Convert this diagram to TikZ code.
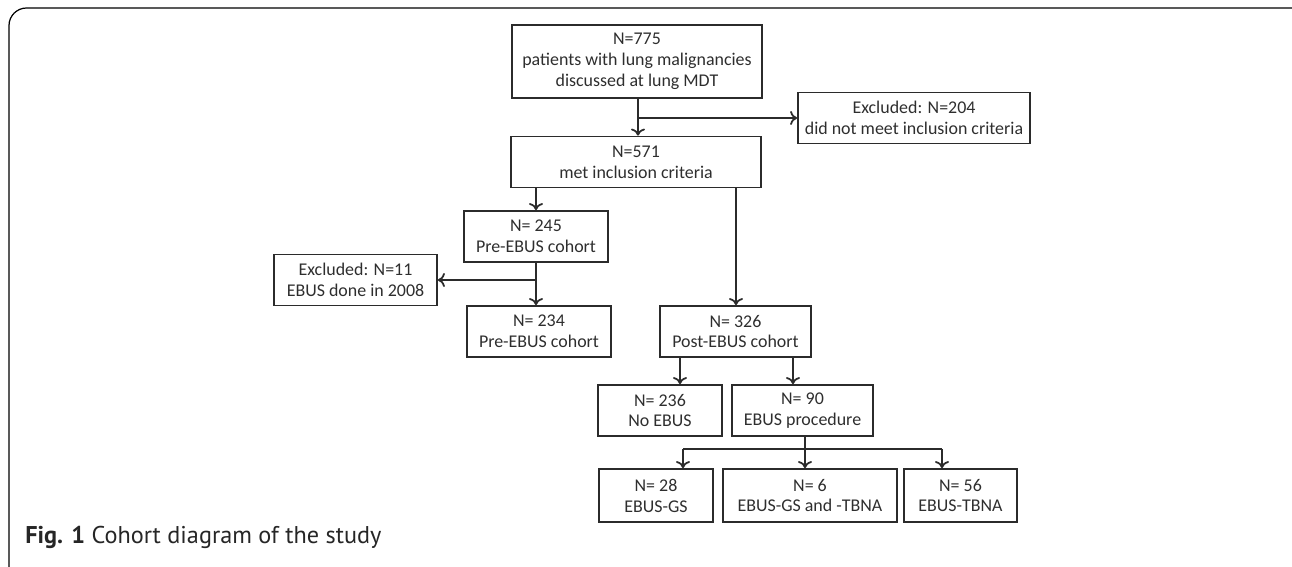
\documentclass[tikz,border=0pt]{standalone}
\usepackage{fontspec}
\setmainfont{Carlito}
\newfontfamily\capfont{PT Sans}
\usepackage{tikz}
\usetikzlibrary{arrows.meta}
\usepackage{xcolor}
\definecolor{boxline}{HTML}{2B2B2B}
\definecolor{boxtext}{HTML}{2E2E2E}

\begin{document}
\begin{tikzpicture}[x=0.02cm, y=-0.02cm,
		box/.style={rectangle, draw=boxline, line width=1pt, text=boxtext, align=center, inner sep=2pt, minimum height=1.02cm, font=\fontsize{10.2}{11.9}\selectfont},
		arr/.style={draw=boxline, line width=1pt, -{To[length=4pt,width=8pt]}},
		link/.style={draw=boxline, line width=1pt}]
			% page frame
			\useasboundingbox (0,0) rectangle (1292,567);
			\begin{scope}
				\clip (0,0) rectangle (1292,567);
				\draw [line width=0.7pt, rounded corners=10pt] (9,8) rectangle (1320,600);
			\end{scope}
			
			\node [box, minimum width=5cm, minimum height=1.46cm] (N775) at (637,61.5) {N=775\\patients with lung malignancies\\discussed at lung MDT};
			\node [box, minimum width=5cm] (N571) at (636,162) {N=571\\met inclusion criteria};
			\node [box, minimum width=4.64cm] (Ex204) at (914,118) {Excluded: N=204\\did not meet inclusion criteria};
			
			\node [box, minimum width=2.88cm] (Pre245) at (536,236.5) {N= 245\\Pre-EBUS cohort};
			\node [box, minimum width=3.26cm] (Ex11) at (355.5,280) {Excluded: N=11\\EBUS done in 2008};
			\node [box, minimum width=2.88cm] (Pre234) at (539,331.5) {N= 234\\Pre-EBUS cohort};
			\node [box, minimum width=3.02cm] (Post326) at (735.5,331.5) {N= 326\\Post-EBUS cohort};
			
			\node [box, minimum width=2.48cm] (NoEBUS) at (660,410.5) {N= 236\\No EBUS};
			\node [box, minimum width=2.82cm] (EBUS90) at (802.5,410.5) {N= 90\\EBUS procedure};
			
			\node [box, minimum width=2.28cm, minimum height=1.06cm] (GS28) at (656,495.5) {N= 28\\EBUS-GS};
			\node [box, minimum width=3.48cm, minimum height=1.06cm] (Both6) at (810,495.5) {N= 6\\EBUS-GS and -TBNA};
			\node [box, minimum width=2.26cm, minimum height=1.06cm] (TBNA56) at (960.5,495.5) {N= 56\\EBUS-TBNA};
			
			% connectors
			\draw [arr] (N775.south -| 638,0) -- (N571.north -| 638,0);
			\draw [arr] (Ex204.west -| 638,0) -- (Ex204.west);
			
			\draw [arr] (N571.south -| 536,0) -- (Pre245.north -| 536,0);
			\draw [arr] (N571.south -| 736,0) -- (Post326.north -| 736,0);
			
			\draw [arr] (Pre245.south) -- (Pre234.north -| Pre245.south);
			\draw [arr] (Ex11.east -| Pre245.south) -- (Ex11.east);
			
			\draw [arr] (Post326.south -| 680,0) -- (NoEBUS.north -| 680,0);
			\draw [arr] (Post326.south -| 793,0) -- (EBUS90.north -| 793,0);
			
			\draw [link] (EBUS90.south -| 805,0) -- (805,449);
			\draw [link] (683,449) -- (942,449);
			\draw [arr] (683,449) -- (GS28.north -| 683,0);
			\draw [arr] (805,449) -- (Both6.north -| 805,0);
			\draw [arr] (942,449) -- (TBNA56.north -| 942,0);
			
			\node [anchor=base west, inner sep=0pt, font=\capfont\fontsize{13.8}{15}\selectfont, text=black!85] (Caption) at (25,543) {\textbf{Fig. 1} Cohort diagram of the study};
\end{tikzpicture}
\end{document}
